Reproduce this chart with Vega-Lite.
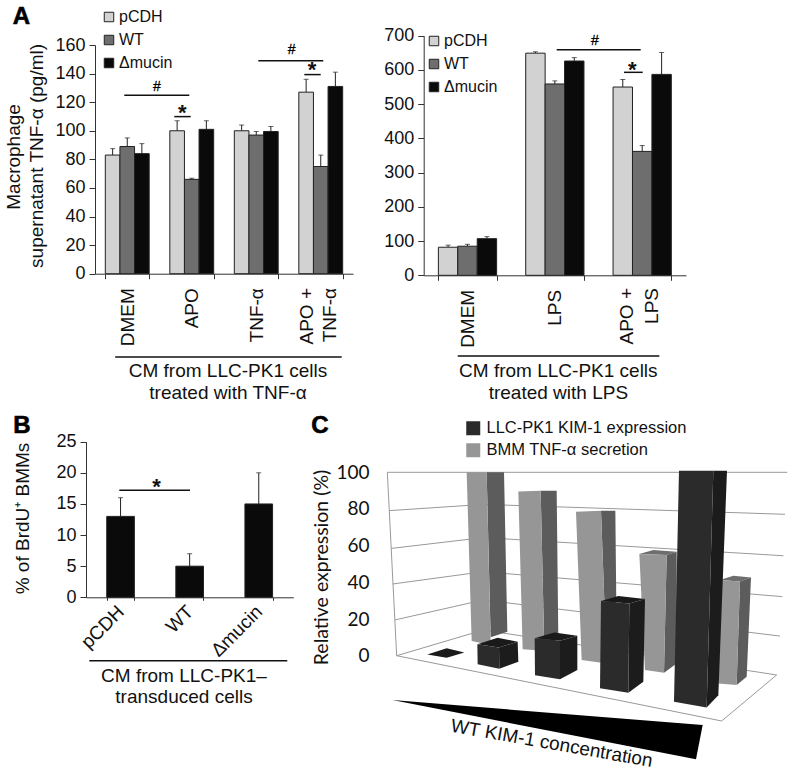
{
"$schema":"https://vega.github.io/schema/vega-lite/v6.json",
"width":792,"height":773,"padding":0,"autosize":{"type":"none"},"background":"white",
"config":{"font":"Liberation Sans","view":{"stroke":null},
"axis":{"grid":false,"labelFontSize":18,"titleFontSize":19,"labelColor":"#111","titleColor":"#111","titleFontWeight":"normal","domainColor":"#333","tickColor":"#333","labelOverlap":false,"labelFlush":false},
"legend":{"labelFontSize":16,"labelColor":"#111","symbolType":"square","symbolStrokeColor":"#222","symbolStrokeWidth":1,"labelLimit":400}},
"datasets":{
"a1":[
{"g":"DMEM","s":"pCDH","v":83,"t":87.5},{"g":"DMEM","s":"WT","v":89,"t":95},{"g":"DMEM","s":"Δmucin","v":84,"t":91},
{"g":"APO","s":"pCDH","v":100,"t":107},{"g":"APO","s":"WT","v":66,"t":66.8},{"g":"APO","s":"Δmucin","v":101,"t":107},
{"g":"TNF-α","s":"pCDH","v":100,"t":104},{"g":"TNF-α","s":"WT","v":97,"t":99.5},{"g":"TNF-α","s":"Δmucin","v":99.5,"t":103},
{"g":"APO +|TNF-α","s":"pCDH","v":127,"t":136},{"g":"APO +|TNF-α","s":"WT","v":75,"t":83},{"g":"APO +|TNF-α","s":"Δmucin","v":131,"t":141}],
"a2":[
{"g":"DMEM","s":"pCDH","v":82,"t":88},{"g":"DMEM","s":"WT","v":85,"t":90.5},{"g":"DMEM","s":"Δmucin","v":107,"t":113},
{"g":"LPS","s":"pCDH","v":649,"t":653},{"g":"LPS","s":"WT","v":559,"t":568},{"g":"LPS","s":"Δmucin","v":626,"t":636},
{"g":"APO +|LPS","s":"pCDH","v":550,"t":572},{"g":"APO +|LPS","s":"WT","v":362,"t":379},{"g":"APO +|LPS","s":"Δmucin","v":587,"t":651}],
"b":[{"g":"pCDH","v":13,"t":16},{"g":"WT","v":5,"t":7},{"g":"Δmucin","v":15,"t":20}]},
"resolve":{"scale":{"x":"independent","y":"independent","xOffset":"independent","color":"independent"},"axis":{"x":"independent","y":"independent"},"legend":{"color":"independent"}},
"layer":[
{"data":{"name":"a1"},"mark":{"type":"tick","orient":"horizontal","size":5,"thickness":1,"color":"#222"},
"encoding":{"x":{"field":"g","type":"nominal","scale":{"domain":["DMEM","APO","TNF-α","APO +|TNF-α"],"range":[95,353],"paddingInner":0.32,"paddingOuter":0.16},"axis":null},
"xOffset":{"field":"s","type":"nominal","scale":{"domain":["pCDH","WT","Δmucin"],"paddingInner":0,"paddingOuter":0}},
"y":{"field":"t","type":"quantitative","scale":{"domain":[0,160],"range":[273.7,45],"nice":false},"axis":null}}},
{"data":{"name":"a1"},
"encoding":{
"x":{"field":"g","type":"nominal","scale":{"domain":["DMEM","APO","TNF-α","APO +|TNF-α"],"range":[95,353],"paddingInner":0.32,"paddingOuter":0.16},
"axis":{"orient":"bottom","offset":-499.3,"title":null,"labelAngle":-90,"labelAlign":"right","labelBaseline":"middle","labelFontSize":19,"tickBand":"extent","tickSize":5,"labelPadding":9,"labelExpr":"indexof(datum.label,'|')>=0 ? '' : datum.label"}},
"xOffset":{"field":"s","type":"nominal","scale":{"domain":["pCDH","WT","Δmucin"],"paddingInner":0,"paddingOuter":0}},
"y":{"field":"v","type":"quantitative","scale":{"domain":[0,160],"range":[273.7,45],"nice":false},
"axis":{"orient":"left","offset":-95,"values":[0,20,40,60,80,100,120,140,160],"tickSize":6,"labelPadding":4,"title":null}}},
"layer":[
{"mark":{"type":"rule","color":"#222","strokeWidth":1},"encoding":{"y2":{"field":"t"}}},
{"mark":{"type":"bar","stroke":"#222","strokeWidth":1},"encoding":{"color":{"field":"s","type":"nominal","scale":{"domain":["pCDH","WT","Δmucin"],"range":["#d2d2d2","#6e6e6e","#0a0a0a"]},"legend":{"orient":"none","legendX":101,"legendY":9,"title":null,"symbolSize":90,"rowPadding":7,"labelOffset":2}}}}
]},
{"encoding":{"x":{"field":"a","type":"quantitative","scale":{"domain":[0,4],"range":[95,353],"nice":false},"axis":null},"y":{"field":"y","type":"quantitative","scale":{"domain":[0,160],"range":[273.7,45],"nice":false},"axis":null}},
"layer":[
{"data":{"values":[{"a":0.454,"b":1.462,"y":124.8},{"a":1.229,"b":1.484,"y":109.9},{"a":2.532,"b":3.539,"y":149},{"a":3.245,"b":3.499,"y":139.3},{"a":0.313,"b":3.825,"y":-58.3}]},"mark":{"type":"rule","color":"#111","strokeWidth":1.5},"encoding":{"x2":{"field":"b"}}},
{"data":{"values":[{"a":0.961,"y":130.6,"t":"#"},{"a":3.05,"y":156.5,"t":"#"}]},"mark":{"type":"text","fontSize":14,"baseline":"middle","color":"#000","stroke":"#000","strokeWidth":0.3},"encoding":{"text":{"field":"t"}}},
{"data":{"values":[{"a":1.353,"y":116,"t":"*"},{"a":3.364,"y":145.7,"t":"*"}]},"mark":{"type":"text","fontSize":22,"fontWeight":"bold","dy":12,"baseline":"alphabetic","color":"#111"},"encoding":{"text":{"field":"t"}}},
{"data":{"values":[{"a":2.062,"y":-72,"t":"CM from LLC-PK1 cells"},{"a":2.062,"y":-87.9,"t":"treated with TNF-α"}]},"mark":{"type":"text","fontSize":19,"baseline":"alphabetic","color":"#111"},"encoding":{"text":{"field":"t"}}},
{"data":{"values":[{"a":3.282,"y":-10,"t":"APO +"},{"a":3.643,"y":-10,"t":"TNF-α"}]},"mark":{"type":"text","fontSize":19,"angle":270,"align":"right","baseline":"middle","color":"#111"},"encoding":{"text":{"field":"t"}}},
{"data":{"values":[{"a":-1.163,"y":81.7,"t":"Macrophage"},{"a":-0.806,"y":82.4,"t":"supernatant TNF-α (pg/ml)"}]},"mark":{"type":"text","fontSize":19,"angle":270,"baseline":"alphabetic","color":"#111"},"encoding":{"text":{"field":"t"}}},
{"data":{"values":[{"a":-1.14,"y":174.7,"t":"A"}]},"mark":{"type":"text","fontSize":24,"fontWeight":"bold","baseline":"alphabetic","color":"#000","stroke":"#000","strokeWidth":0.6},"encoding":{"text":{"field":"t"}}}
]},
{"data":{"name":"a2"},"mark":{"type":"tick","orient":"horizontal","size":5,"thickness":1,"color":"#222"},
"encoding":{"x":{"field":"g","type":"nominal","scale":{"domain":["DMEM","LPS","APO +|LPS"],"range":[423.7,686],"paddingInner":0.333,"paddingOuter":0.168},"axis":null},
"xOffset":{"field":"s","type":"nominal","scale":{"domain":["pCDH","WT","Δmucin"],"paddingInner":0,"paddingOuter":0}},
"y":{"field":"t","type":"quantitative","scale":{"domain":[0,700],"range":[275.3,35.7],"nice":false},"axis":null}}},
{"data":{"name":"a2"},
"encoding":{
"x":{"field":"g","type":"nominal","scale":{"domain":["DMEM","LPS","APO +|LPS"],"range":[423.7,686],"paddingInner":0.333,"paddingOuter":0.168},
"axis":{"orient":"bottom","offset":-497.7,"title":null,"labelAngle":-90,"labelAlign":"right","labelBaseline":"middle","labelFontSize":19,"tickBand":"extent","tickSize":5,"labelPadding":9,"labelExpr":"indexof(datum.label,'|')>=0 ? '' : datum.label"}},
"xOffset":{"field":"s","type":"nominal","scale":{"domain":["pCDH","WT","Δmucin"],"paddingInner":0,"paddingOuter":0}},
"y":{"field":"v","type":"quantitative","scale":{"domain":[0,700],"range":[275.3,35.7],"nice":false},
"axis":{"orient":"left","offset":-423.7,"values":[0,100,200,300,400,500,600,700],"tickSize":6,"labelPadding":4,"title":null}}},
"layer":[
{"mark":{"type":"rule","color":"#222","strokeWidth":1},"encoding":{"y2":{"field":"t"}}},
{"mark":{"type":"bar","stroke":"#222","strokeWidth":1},"encoding":{"color":{"field":"s","type":"nominal","scale":{"domain":["pCDH","WT","Δmucin"],"range":["#d2d2d2","#6e6e6e","#0a0a0a"]},"legend":{"orient":"none","legendX":426,"legendY":33,"title":null,"symbolSize":90,"rowPadding":7,"labelOffset":2}}}}
]},
{"encoding":{"x":{"field":"a","type":"quantitative","scale":{"domain":[0,3],"range":[423.7,686],"nice":false},"axis":null},"y":{"field":"y","type":"quantitative","scale":{"domain":[0,700],"range":[275.3,35.7],"nice":false},"axis":null}},
"layer":[
{"data":{"values":[{"a":1.521,"b":2.482,"y":659},{"a":2.291,"b":2.505,"y":593},{"a":0.389,"b":2.695,"y":-236}]},"mark":{"type":"rule","color":"#111","strokeWidth":1.5},"encoding":{"x2":{"field":"b"}}},
{"data":{"values":[{"a":1.959,"y":684,"t":"#"}]},"mark":{"type":"text","fontSize":14,"baseline":"middle","color":"#000","stroke":"#000","strokeWidth":0.3},"encoding":{"text":{"field":"t"}}},
{"data":{"values":[{"a":2.386,"y":614,"t":"*"}]},"mark":{"type":"text","fontSize":22,"fontWeight":"bold","dy":12,"baseline":"alphabetic","color":"#111"},"encoding":{"text":{"field":"t"}}},
{"data":{"values":[{"a":1.54,"y":-296,"t":"CM from LLC-PK1 cells"},{"a":1.54,"y":-361,"t":"treated with LPS"}]},"mark":{"type":"text","fontSize":19,"baseline":"alphabetic","color":"#111"},"encoding":{"text":{"field":"t"}}},
{"data":{"values":[{"a":2.322,"y":-37.1,"t":"APO +"},{"a":2.608,"y":-37.1,"t":"LPS"}]},"mark":{"type":"text","fontSize":19,"angle":270,"align":"right","baseline":"middle","color":"#111"},"encoding":{"text":{"field":"t"}}}
]},
{"data":{"name":"b"},"mark":{"type":"tick","orient":"horizontal","size":5,"thickness":1,"color":"#222"},
"encoding":{"x":{"field":"g","type":"nominal","scale":{"domain":["pCDH","WT","Δmucin"],"range":[86,293.3],"paddingInner":0.6,"paddingOuter":0.3},"axis":null},
"y":{"field":"t","type":"quantitative","scale":{"domain":[0,25],"range":[597.3,441.7],"nice":false},"axis":null}}},
{"data":{"name":"b"},
"encoding":{
"x":{"field":"g","type":"nominal","scale":{"domain":["pCDH","WT","Δmucin"],"range":[86,293.3],"paddingInner":0.6,"paddingOuter":0.3},
"axis":{"orient":"bottom","offset":-175.7,"title":null,"labelAngle":-45,"labelAlign":"right","labelBaseline":"middle","labelFontSize":19,"tickBand":"extent","tickSize":3,"labelPadding":8}},
"y":{"field":"v","type":"quantitative","scale":{"domain":[0,25],"range":[597.3,441.7],"nice":false},
"axis":{"orient":"left","offset":-86,"values":[0,5,10,15,20,25],"tickSize":6,"labelPadding":4,"title":"% of BrdU⁺ BMMs","titleX":-58,"titleY":518,"titleAngle":-90,"titleAlign":"center","titleBaseline":"alphabetic"}}},
"layer":[
{"mark":{"type":"rule","color":"#222","strokeWidth":1},"encoding":{"y2":{"field":"t"}}},
{"mark":{"type":"bar","color":"#0a0a0a","stroke":"#222","strokeWidth":1}}
]},
{"encoding":{"x":{"field":"a","type":"quantitative","scale":{"domain":[0,3],"range":[86,293.3],"nice":false},"axis":null},"y":{"field":"y","type":"quantitative","scale":{"domain":[0,25],"range":[597.3,441.7],"nice":false},"axis":null}},
"layer":[
{"data":{"values":[{"a":0.482,"b":1.505,"y":17.2},{"a":0.048,"b":2.913,"y":-10.2}]},"mark":{"type":"rule","color":"#111","strokeWidth":1.5},"encoding":{"x2":{"field":"b"}}},
{"data":{"values":[{"a":1.022,"y":18.6,"t":"*"}]},"mark":{"type":"text","fontSize":22,"fontWeight":"bold","dy":12,"baseline":"alphabetic","color":"#111"},"encoding":{"text":{"field":"t"}}},
{"data":{"values":[{"a":1.418,"y":-13.6,"t":"CM from LLC-PK1–"},{"a":1.418,"y":-17,"t":"transduced cells"}]},"mark":{"type":"text","fontSize":19,"baseline":"alphabetic","color":"#111"},"encoding":{"text":{"field":"t"}}},
{"data":{"values":[{"a":-0.926,"y":26.4,"t":"B"}]},"mark":{"type":"text","fontSize":24,"fontWeight":"bold","baseline":"alphabetic","color":"#000","stroke":"#000","strokeWidth":0.6},"encoding":{"text":{"field":"t"}}}
]},
{"encoding":{"x":{"field":"x","type":"quantitative","scale":{"domain":[0,1476],"range":[300,792],"nice":false},"axis":null},
"y":{"field":"y","type":"quantitative","scale":{"domain":[0,100],"range":[655.7,472.3],"nice":false},
"axis":{"orient":"left","offset":-369,"values":[0,20,40,60,80,100],"domain":false,"ticks":false,"labelPadding":0,"labelFont":"Lato","labelFontSize":19,"title":"Relative expression (%)","titleFont":"Lato","titleFontSize":19.5,"titleX":-42,"titleY":567,"titleAngle":-90,"titleAlign":"center","titleBaseline":"alphabetic"}}},
"layer":[
{"data":{"values":[
{"l":"g100","x":262,"y":100},{"l":"g100","x":1462,"y":100},
{"l":"g80","x":268,"y":79.1},{"l":"g80","x":550,"y":82.5},{"l":"g80","x":1455,"y":77.1},
{"l":"g60","x":274,"y":58.5},{"l":"g60","x":550,"y":64.4},{"l":"g60","x":1450,"y":54.5},
{"l":"g40","x":278,"y":39.1},{"l":"g40","x":550,"y":45.8},{"l":"g40","x":1447,"y":32.2},
{"l":"g20","x":285,"y":19.5},{"l":"g20","x":550,"y":30.4},{"l":"g20","x":1440,"y":10.7},
{"l":"edge","x":262,"y":100},{"l":"edge","x":290,"y":0},
{"l":"f1","x":550,"y":14},{"l":"f1","x":290,"y":0},
{"l":"f2","x":290,"y":0},{"l":"f2","x":1265,"y":-35.6},
{"l":"f3","x":1265,"y":-35.6},{"l":"f3","x":1430,"y":-10.5},
{"l":"f4","x":1430,"y":-10.5},{"l":"f4","x":550,"y":14}]},
"mark":{"type":"line","color":"#999","strokeWidth":1},"encoding":{"detail":{"field":"l"}}},
{"data":{"values":[
{"f":"T1s","p":"TNF side","o":1,"x":560,"y":100},{"f":"T1s","p":"TNF side","o":2,"x":612,"y":100},{"f":"T1s","p":"TNF side","o":3,"x":622,"y":13.1},{"f":"T1s","p":"TNF side","o":4,"x":572,"y":10},
{"f":"T1f","p":"BMM TNF-α secretion","o":1,"x":500,"y":100},{"f":"T1f","p":"BMM TNF-α secretion","o":2,"x":560,"y":100},{"f":"T1f","p":"BMM TNF-α secretion","o":3,"x":572,"y":5.8},{"f":"T1f","p":"BMM TNF-α secretion","o":4,"x":515,"y":8},
{"f":"T2s","p":"TNF side","o":1,"x":722,"y":90},{"f":"T2s","p":"TNF side","o":2,"x":770,"y":90},{"f":"T2s","p":"TNF side","o":3,"x":775,"y":9.5},{"f":"T2s","p":"TNF side","o":4,"x":733,"y":2.7},
{"f":"T2f","p":"BMM TNF-α secretion","o":1,"x":655,"y":89.5},{"f":"T2f","p":"BMM TNF-α secretion","o":2,"x":722,"y":90},{"f":"T2f","p":"BMM TNF-α secretion","o":3,"x":733,"y":2.7},{"f":"T2f","p":"BMM TNF-α secretion","o":4,"x":668,"y":3.5},
{"f":"T3s","p":"TNF side","o":1,"x":903,"y":79.1},{"f":"T3s","p":"TNF side","o":2,"x":946,"y":79.1},{"f":"T3s","p":"TNF side","o":3,"x":950,"y":8.5},{"f":"T3s","p":"TNF side","o":4,"x":920,"y":-4.2},
{"f":"T3f","p":"BMM TNF-α secretion","o":1,"x":828,"y":78.5},{"f":"T3f","p":"BMM TNF-α secretion","o":2,"x":903,"y":79.1},{"f":"T3f","p":"BMM TNF-α secretion","o":3,"x":920,"y":-4.2},{"f":"T3f","p":"BMM TNF-α secretion","o":4,"x":845,"y":-2.4},
{"f":"T4t","p":"TNF top","o":1,"x":1018,"y":55.5},{"f":"T4t","p":"TNF top","o":2,"x":1060,"y":57.6},{"f":"T4t","p":"TNF top","o":3,"x":1130,"y":56.7},{"f":"T4t","p":"TNF top","o":4,"x":1100,"y":54.9},
{"f":"T4s","p":"TNF side","o":1,"x":1100,"y":54.9},{"f":"T4s","p":"TNF side","o":2,"x":1130,"y":56.7},{"f":"T4s","p":"TNF side","o":3,"x":1130,"y":-4.2},{"f":"T4s","p":"TNF side","o":4,"x":1092,"y":-9.3},
{"f":"T4f","p":"BMM TNF-α secretion","o":1,"x":1018,"y":55.5},{"f":"T4f","p":"BMM TNF-α secretion","o":2,"x":1100,"y":54.9},{"f":"T4f","p":"BMM TNF-α secretion","o":3,"x":1092,"y":-9.3},{"f":"T4f","p":"BMM TNF-α secretion","o":4,"x":1035,"y":-7.8},
{"f":"T5t","p":"TNF top","o":1,"x":1260,"y":41.3},{"f":"T5t","p":"TNF top","o":2,"x":1300,"y":43.6},{"f":"T5t","p":"TNF top","o":3,"x":1353,"y":42.7},{"f":"T5t","p":"TNF top","o":4,"x":1320,"y":40.4},
{"f":"T5s","p":"TNF side","o":1,"x":1320,"y":40.4},{"f":"T5s","p":"TNF side","o":2,"x":1353,"y":42.7},{"f":"T5s","p":"TNF side","o":3,"x":1340,"y":-11.5},{"f":"T5s","p":"TNF side","o":4,"x":1310,"y":-16},
{"f":"T5f","p":"BMM TNF-α secretion","o":1,"x":1260,"y":41.3},{"f":"T5f","p":"BMM TNF-α secretion","o":2,"x":1320,"y":40.4},{"f":"T5f","p":"BMM TNF-α secretion","o":3,"x":1310,"y":-16},{"f":"T5f","p":"BMM TNF-α secretion","o":4,"x":1255,"y":-15.1},
{"f":"K1t","p":"KIM top","o":1,"x":382,"y":0.7},{"f":"K1t","p":"KIM top","o":2,"x":440,"y":4},{"f":"K1t","p":"KIM top","o":3,"x":493,"y":1.8},{"f":"K1t","p":"KIM top","o":4,"x":440,"y":-1.1},
{"f":"K2t","p":"KIM top","o":1,"x":532,"y":6.2},{"f":"K2t","p":"KIM top","o":2,"x":593,"y":9.8},{"f":"K2t","p":"KIM top","o":3,"x":653,"y":7.6},{"f":"K2t","p":"KIM top","o":4,"x":597,"y":4.5},
{"f":"K2s","p":"KIM side","o":1,"x":597,"y":4.5},{"f":"K2s","p":"KIM side","o":2,"x":653,"y":7.6},{"f":"K2s","p":"KIM side","o":3,"x":655,"y":-3.3},{"f":"K2s","p":"KIM side","o":4,"x":598,"y":-7.1},
{"f":"K2f","p":"LLC-PK1 KIM-1 expression","o":1,"x":532,"y":6.2},{"f":"K2f","p":"LLC-PK1 KIM-1 expression","o":2,"x":597,"y":4.5},{"f":"K2f","p":"LLC-PK1 KIM-1 expression","o":3,"x":598,"y":-7.1},{"f":"K2f","p":"LLC-PK1 KIM-1 expression","o":4,"x":533,"y":-4.7},
{"f":"K3t","p":"KIM top","o":1,"x":704,"y":9.5},{"f":"K3t","p":"KIM top","o":2,"x":763,"y":12.7},{"f":"K3t","p":"KIM top","o":3,"x":832,"y":10.9},{"f":"K3t","p":"KIM top","o":4,"x":780,"y":8.2},
{"f":"K3s","p":"KIM side","o":1,"x":780,"y":8.2},{"f":"K3s","p":"KIM side","o":2,"x":832,"y":10.9},{"f":"K3s","p":"KIM side","o":3,"x":832,"y":-7.8},{"f":"K3s","p":"KIM side","o":4,"x":780,"y":-12.9},
{"f":"K3f","p":"LLC-PK1 KIM-1 expression","o":1,"x":704,"y":9.5},{"f":"K3f","p":"LLC-PK1 KIM-1 expression","o":2,"x":780,"y":8.2},{"f":"K3f","p":"LLC-PK1 KIM-1 expression","o":3,"x":780,"y":-12.9},{"f":"K3f","p":"LLC-PK1 KIM-1 expression","o":4,"x":705,"y":-10.7},
{"f":"K4t","p":"KIM top","o":1,"x":903,"y":29.8},{"f":"K4t","p":"KIM top","o":2,"x":955,"y":32.5},{"f":"K4t","p":"KIM top","o":3,"x":1035,"y":30.9},{"f":"K4t","p":"KIM top","o":4,"x":988,"y":28.5},
{"f":"K4s","p":"KIM side","o":1,"x":988,"y":28.5},{"f":"K4s","p":"KIM side","o":2,"x":1035,"y":30.9},{"f":"K4s","p":"KIM side","o":3,"x":1030,"y":-14.2},{"f":"K4s","p":"KIM side","o":4,"x":985,"y":-20.2},
{"f":"K4f","p":"LLC-PK1 KIM-1 expression","o":1,"x":903,"y":29.8},{"f":"K4f","p":"LLC-PK1 KIM-1 expression","o":2,"x":988,"y":28.5},{"f":"K4f","p":"LLC-PK1 KIM-1 expression","o":3,"x":985,"y":-20.2},{"f":"K4f","p":"LLC-PK1 KIM-1 expression","o":4,"x":900,"y":-17.8},
{"f":"K5s","p":"KIM side","o":1,"x":1240,"y":100.9},{"f":"K5s","p":"KIM side","o":2,"x":1281,"y":100.9},{"f":"K5s","p":"KIM side","o":3,"x":1255,"y":-21.5},{"f":"K5s","p":"KIM side","o":4,"x":1220,"y":-28.2},
{"f":"K5f","p":"LLC-PK1 KIM-1 expression","o":1,"x":1137,"y":100.9},{"f":"K5f","p":"LLC-PK1 KIM-1 expression","o":2,"x":1240,"y":100.9},{"f":"K5f","p":"LLC-PK1 KIM-1 expression","o":3,"x":1220,"y":-28.2},{"f":"K5f","p":"LLC-PK1 KIM-1 expression","o":4,"x":1122,"y":-25.1},
{"f":"W","p":"wedge","o":1,"x":277,"y":-24.2},{"f":"W","p":"wedge","o":2,"x":1208,"y":-37.8},{"f":"W","p":"wedge","o":3,"x":1188,"y":-56.5}]},
"mark":{"type":"line","filled":true,"strokeWidth":0},
"encoding":{"detail":{"field":"f"},"order":{"field":"o","type":"quantitative"},
"color":{"field":"p","type":"nominal","scale":{"domain":["LLC-PK1 KIM-1 expression","BMM TNF-α secretion","KIM side","KIM top","TNF side","TNF top","wedge"],"range":["#2b2b2b","#969696","#1c1c1c","#1a1a1a","#5c5c5c","#6e6e6e","#000000"]},
"legend":{"orient":"none","legendX":465,"legendY":420,"title":null,"values":["LLC-PK1 KIM-1 expression","BMM TNF-α secretion"],"symbolSize":196,"symbolStrokeWidth":0,"labelFontSize":16.5,"rowPadding":5,"labelOffset":5}}}},
{"data":{"values":[{"x":755,"y":-47.8,"t":"WT KIM-1 concentration"}]},"mark":{"type":"text","fontSize":19,"angle":10,"baseline":"middle","color":"#111"},"encoding":{"text":{"field":"t"}}},
{"data":{"values":[{"x":60,"y":121.3,"t":"C"}]},"mark":{"type":"text","fontSize":24,"fontWeight":"bold","baseline":"alphabetic","color":"#000","stroke":"#000","strokeWidth":0.6},"encoding":{"text":{"field":"t"}}}
]}
]}
